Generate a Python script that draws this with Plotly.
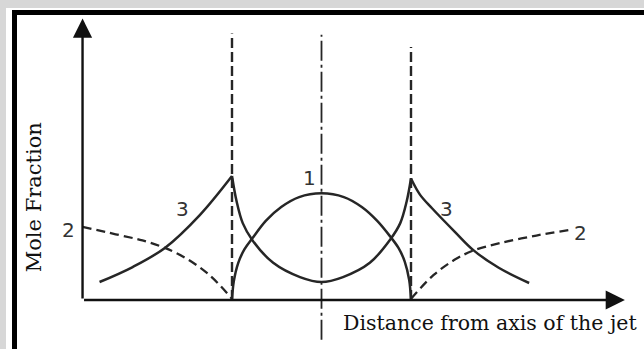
import plotly.graph_objects as go

# Radial position is in units of the jet boundary half-width (boundary at +/-1),
# mole fraction is normalised so that component 3 peaks at ~1 on the boundary.

# Component 1: jet gas, confined inside the boundary
c1_x = [-1.0, -0.98, -0.93, -0.86, -0.77, -0.62, -0.45, -0.25, 0.0,
        0.25, 0.45, 0.62, 0.77, 0.86, 0.93, 0.98, 1.0]
c1_y = [0.0, 0.15, 0.30, 0.41, 0.50, 0.64, 0.75, 0.83, 0.86,
        0.83, 0.75, 0.64, 0.51, 0.42, 0.31, 0.16, 0.0]

# Component 2: surrounding gas, outside the boundary
c2_left_x = [-2.67, -2.3, -2.0, -1.75, -1.5, -1.25, -1.0]
c2_left_y = [0.59, 0.53, 0.48, 0.42, 0.33, 0.20, 0.01]
c2_right_x = [1.0, 1.25, 1.5, 1.7, 2.0, 2.4, 2.77]
c2_right_y = [0.01, 0.20, 0.33, 0.40, 0.46, 0.52, 0.565]

# Component 3: reaction product, peaking on the boundary
c3_left_x = [-2.48, -2.11, -1.75, -1.36, -1.0]
c3_left_y = [0.145, 0.266, 0.42, 0.685, 1.0]
c3_mid_x = [-1.0, -0.95, -0.88, -0.77, -0.54, -0.24, 0.0,
            0.24, 0.54, 0.77, 0.88, 0.95, 1.0]
c3_mid_y = [1.0, 0.80, 0.62, 0.48, 0.30, 0.185, 0.145,
            0.185, 0.30, 0.49, 0.62, 0.79, 0.98]
c3_right_x = [1.0, 1.1, 1.235, 1.49, 1.70, 1.98, 2.32]
c3_right_y = [0.98, 0.85, 0.74, 0.55, 0.40, 0.26, 0.137]

# Curve labels
label_text = ["1", "3", "3", "2", "2"]
label_x = [-0.13, -1.55, 1.40, -2.83, 2.89]
label_y = [0.98, 0.73, 0.73, 0.565, 0.54]

# Reference lines: jet boundaries and jet axis
boundary_x = [-1.0, 1.0]
boundary_top = [2.15, 2.04]
axis_line_y = [-0.32, 2.14]

# Axis frame
x_start, x_end = -2.67, 3.39
y_end = 2.27

ink = "#262626"
fig = go.Figure()

curve = dict(mode="lines", line=dict(color=ink, width=2.5, shape="spline", smoothing=1.0),
             hoverinfo="skip", showlegend=False)
dashed = dict(mode="lines", line=dict(color=ink, width=2.3, dash="9px,5px", shape="spline",
                                      smoothing=1.0), hoverinfo="skip", showlegend=False)

fig.add_trace(go.Scatter(x=c1_x, y=c1_y, **curve))
fig.add_trace(go.Scatter(x=c3_left_x, y=c3_left_y, **curve))
fig.add_trace(go.Scatter(x=c3_mid_x, y=c3_mid_y, **curve))
fig.add_trace(go.Scatter(x=c3_right_x, y=c3_right_y, **curve))
fig.add_trace(go.Scatter(x=c2_left_x, y=c2_left_y, **dashed))
fig.add_trace(go.Scatter(x=c2_right_x, y=c2_right_y, **dashed))

# Jet boundaries (dashed) and jet axis (dash-dot)
for bx, top in zip(boundary_x, boundary_top):
    fig.add_trace(go.Scatter(x=[bx, bx], y=[0, top], mode="lines",
                             line=dict(color=ink, width=2.4, dash="10px,4px"),
                             hoverinfo="skip", showlegend=False))
fig.add_trace(go.Scatter(x=[0, 0], y=axis_line_y, mode="lines",
                         line=dict(color=ink, width=1.8, dash="20px,4px,3px,4px"),
                         hoverinfo="skip", showlegend=False))

# Axes drawn as arrows
arrow = dict(text="", showarrow=True, arrowhead=2, arrowsize=1.6, arrowwidth=2.4,
             arrowcolor="#111111", xref="x", yref="y", axref="x", ayref="y", standoff=0)
fig.add_annotation(x=x_start, y=y_end, ax=x_start, ay=0, **arrow)
fig.add_annotation(x=x_end, y=0, ax=x_start, ay=0, **arrow)

for t, lx, ly in zip(label_text, label_x, label_y):
    fig.add_annotation(x=lx, y=ly, text=t, showarrow=False,
                       font=dict(family="DejaVu Sans", size=20, color="#333333"))

fig.add_annotation(x=0.22, y=-0.185, text="Distance from axis of the jet", showarrow=False,
                   xanchor="left", yanchor="middle",
                   font=dict(family="DejaVu Serif", size=20.5, color="#111111"))
fig.add_annotation(x=-3.21, y=0.83, text="Mole Fraction", showarrow=False, textangle=-90,
                   font=dict(family="DejaVu Serif", size=21, color="#111111"))

W, H = 644, 349


def px(x):
    return x / W


def py(y):
    return 1 - y / H


# Page frame: white panel with heavy black border on the top and left
fig.add_shape(type="rect", xref="paper", yref="paper", x0=px(6), x1=1, y0=0, y1=py(8),
              fillcolor="white", line_width=0, layer="below")
fig.add_shape(type="rect", xref="paper", yref="paper", x0=px(12), x1=px(17), y0=0, y1=py(10),
              fillcolor="black", line_width=0, layer="below")
fig.add_shape(type="rect", xref="paper", yref="paper", x0=px(12), x1=1, y0=py(15), y1=py(10),
              fillcolor="black", line_width=0, layer="below")

fig.update_layout(
    width=W, height=H,
    margin=dict(l=0, r=0, t=0, b=0),
    paper_bgcolor="#d7d7d7",
    plot_bgcolor="rgba(0,0,0,0)",
    xaxis=dict(range=[-321.5 / 89.5, (W - 321.5) / 89.5], visible=False, fixedrange=True),
    yaxis=dict(range=[-49 / 124, 300 / 124], visible=False, fixedrange=True),
)

fig.write_html("out.html")
